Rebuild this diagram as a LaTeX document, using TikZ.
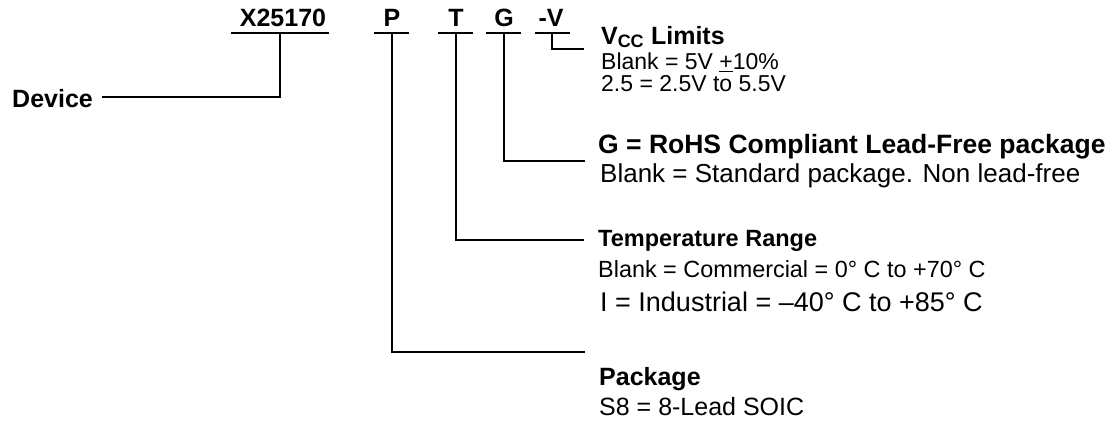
\documentclass[tikz,border=0pt]{standalone}
\usepackage{fontspec}
\setmainfont{Liberation Sans}
\newcommand{\fs}[1]{\fontsize{#1pt}{#1pt}\selectfont}
\begin{document}
\begin{tikzpicture}[x=1pt,y=-1pt,
  ln/.style={line width=1.6pt, line cap=rect},
  code/.style={anchor=base, inner sep=0pt, font=\fs{25}\bfseries},
  head/.style={anchor=base west, inner sep=0pt, font=\fs{25}\bfseries},
  desc/.style={anchor=base west, inner sep=0pt, font=\fs{25}}]
\useasboundingbox (0,0) rectangle (1116,422);
% code letters
\node[code] (x) at (283,27) {X25170};
\node[code] (p) at (392,27) {P};
\node[code] (t) at (456,27) {T};
\node[code] (g) at (504,27) {G};
\node[code] (v) at (551,27) {-V};
% underlines
\coordinate (xl) at (232,33); \coordinate (xr) at (328,33);
\coordinate (pl) at (375,33); \coordinate (pr) at (408,33);
\coordinate (tl) at (439,33); \coordinate (tr) at (472,33);
\coordinate (gl) at (487,33); \coordinate (gr) at (520,33);
\coordinate (vl) at (536,33); \coordinate (vr) at (569,33);
\draw[ln] (xl) -- (xr); \draw[ln] (pl) -- (pr); \draw[ln] (tl) -- (tr);
\draw[ln] (gl) -- (gr); \draw[ln] (vl) -- (vr);
% labels
\node[head] (dev) at (12,108) {Device};
\node[head] (vcc) at (601,45) {V\raisebox{-0.1em}{\fs{18}C\kern-0.3pt C}\hspace{0.3em}Limits};
\node[desc,font=\fs{23}] (vcc1) at (601,70) {Blank = 5V \underline{+}10\%};
\node[desc,font=\fs{23}] (vcc2) at (601,92) {2.5 = 2.5V to 5.5V};
\node[head,font=\fs{26.5}\bfseries] (rohs) at (598,154) {G = RoHS Compliant Lead-Free package};
\node[desc,font=\fs{26}] (rohs1) at (600,183) {Blank = Standard package. Non lead-free};
\node[head,font=\fs{23.5}\bfseries] (temp) at (598,247) {Temperature Range};
\node[desc,font=\fs{23.4}] (temp1) at (598,277) {Blank = Commercial = 0° C to +70° C};
\node[desc,font=\fs{27}] (temp2) at (600,311) {I = Industrial = –40° C to +85° C};
\node[head,font=\fs{25}\bfseries] (pkg) at (599,385) {Package};
\node[desc,font=\fs{25}] (pkg1) at (599,415) {S8 = 8-Lead SOIC};
% connectors
\coordinate (xc) at (280,33); \coordinate (pc) at (392,33);
\coordinate (tc) at (456,33); \coordinate (gc) at (504,33);
\coordinate (vc) at (552,33);
\coordinate (devend) at (103,97);
\coordinate (pend) at (584,352); \coordinate (tend) at (583,240);
\coordinate (gend) at (584,161); \coordinate (vend) at (583,49);
\draw[ln] (xc) |- (devend);
\draw[ln] (pc) |- (pend);
\draw[ln] (tc) |- (tend);
\draw[ln] (gc) |- (gend);
\draw[ln] (vc) |- (vend);
\end{tikzpicture}
\end{document}
